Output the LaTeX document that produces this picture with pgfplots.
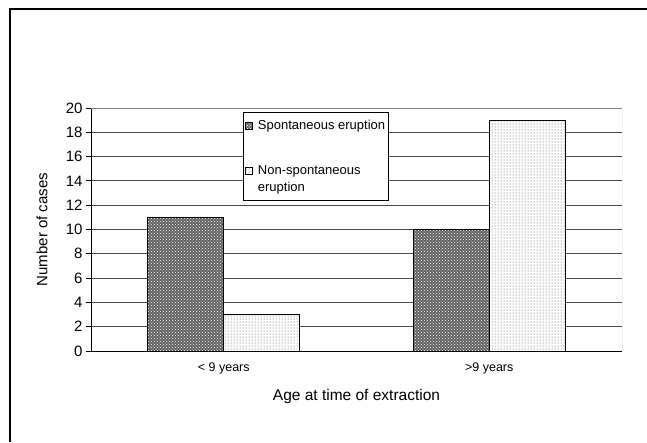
\documentclass[border=0pt]{standalone}
\usepackage{pgfplots}
\pgfplotsset{compat=1.18}
\usepackage{fontspec}
\setmainfont{Liberation Sans}
\usetikzlibrary{patterns}
\begin{document}
\begin{tikzpicture}[x=1pt,y=1pt]
\useasboundingbox (0,0) rectangle (647,442);
\fill[white] (0,0) rectangle (647,442);
\draw[line width=1.3pt] (10,0) -- (10,433) -- (647,433);
\begin{axis}[
  at={(91pt,91pt)}, anchor=south west,
  width=531pt, height=243pt, scale only axis,
  ybar, bar width=76pt,
  xmin=-0.5, xmax=1.5, ymin=0, ymax=20,
  xtick={0,1}, xticklabels={{< 9 years},{>9 years}},
  x tick label style={font=\fontsize{12.5}{14}\selectfont, anchor=base, yshift=-15pt},
  major x tick style={draw=none},
  extra x ticks={-0.5,0.5,1.5}, extra x tick labels={},
  extra x tick style={major tick length=5pt, tick style={draw=black}, grid=none},
  ytick={0,2,...,20},
  y tick label style={font=\fontsize{15}{18}\selectfont},
  /pgf/number format/assume math mode=true,
  tick align=outside, major tick length=5pt,
  ymajorgrids, grid style={draw=black!70, line width=0.8pt},
  axis x line*=bottom, axis y line*=left,
  axis line style={-, black, line width=0.9pt},
  y tick style={black, line width=0.8pt},
  xlabel={Age at time of extraction},
  xlabel style={at={([yshift=-45pt]axis description cs:0.5,0)}, anchor=center, font=\fontsize{15.5}{18}\selectfont},
  ylabel={Number of cases},
  ylabel style={at={([xshift=-49pt]axis description cs:0,0.5)}, anchor=center, font=\fontsize{15}{18}\selectfont},
  legend style={at={(0.2863,0.9835)}, anchor=north west, draw=black, line width=0.8pt,
    font=\fontsize{13}{17}\selectfont, cells={anchor=west, align=left},
    row sep=32.5pt, inner xsep=2pt, inner ysep=6.5pt,
    nodes={inner sep=1pt},
    /tikz/every odd column/.append style={column sep=4pt}},
]
\addplot[bar shift=-38pt, draw=black, line width=0.6pt, fill=black!62,
  postaction={pattern=crosshatch dots, pattern color=white},
  legend image code/.code={\draw[draw=black, fill=black!62, postaction={pattern=crosshatch dots, pattern color=white}, line width=0.5pt] (0pt,-3.5pt) rectangle (7pt,3.5pt);}]
  coordinates {(0,11) (1,10)};
\addplot[bar shift=38pt, draw=black, line width=0.6pt, fill=white,
  postaction={pattern=dots, pattern color=black!70},
  legend image code/.code={\coordinate (lgA) at (0pt,-12pt);\coordinate (lgB) at (7pt,12pt);\draw[draw=black, fill=white, line width=0.5pt] (0pt,5pt) rectangle (7pt,12pt);}]
  coordinates {(0,3) (1,19)};
\legend{Spontaneous eruption, {Non-spontaneous\\eruption}}
\draw[black!50, line width=0.9pt] (rel axis cs:0,1) -- (rel axis cs:1,1) -- (rel axis cs:1,0);
\end{axis}
\end{tikzpicture}
\end{document}
